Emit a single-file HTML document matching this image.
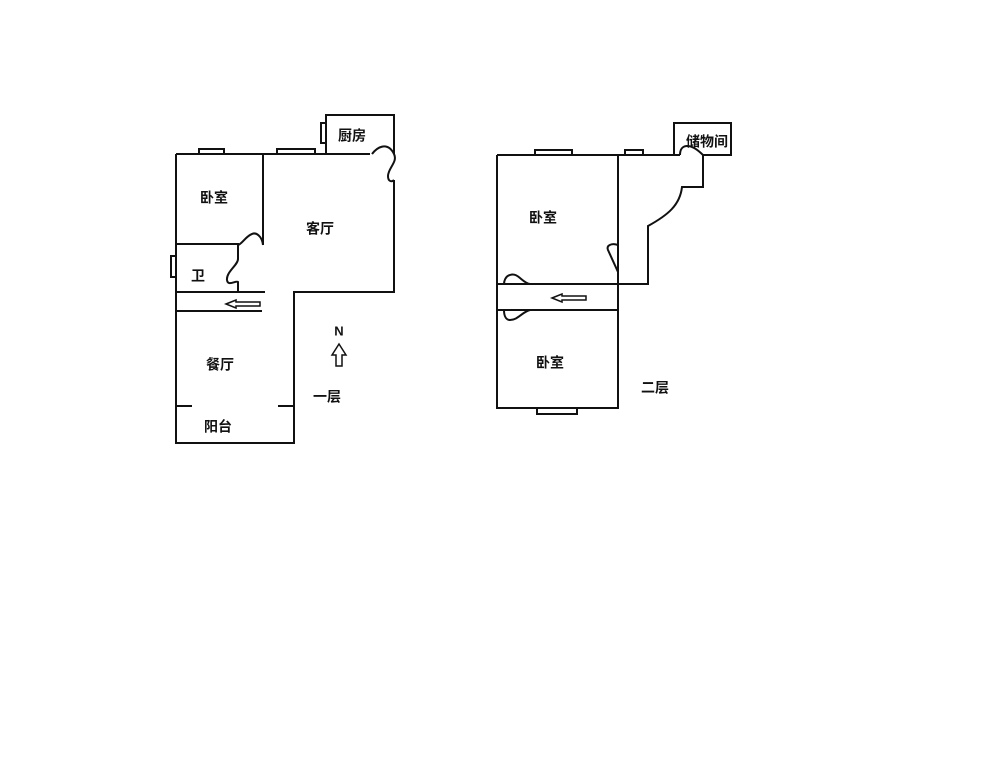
<!DOCTYPE html>
<html><head><meta charset="utf-8"><style>
html,body{margin:0;padding:0;background:#fff;}
svg{display:block}
text{font-family:"Liberation Sans","Noto Sans CJK SC",sans-serif;font-size:14px;font-weight:bold;fill:#111;text-anchor:middle;dominant-baseline:middle;}
</style></head><body>
<svg width="1000" height="776" viewBox="0 0 1000 776" xmlns="http://www.w3.org/2000/svg">
<g stroke="#111" stroke-width="2" fill="none">
<!-- Floor 1 -->
<path d="M176 154 V443 H294 V292 H394 V180"/>
<path d="M176 154 H370"/>
<path d="M326 154 V115 H394 V154"/>
<path d="M372 154 C378 146 388 142 394 154 C398 162 388 168 388 176 C388 182 392 182 394 180"/>
<rect x="199" y="149" width="25" height="5" fill="#fff"/>
<rect x="277" y="149" width="38" height="5" fill="#fff"/>
<rect x="321" y="123" width="5" height="20" fill="#fff"/>
<rect x="171" y="256" width="5" height="21" fill="#fff"/>
<path d="M263 154 V245"/>
<path d="M263 245 C262 236 256 232 252 234 C246 236 242 244 238 245"/>
<path d="M176 244 H238 V259 C238 265 226 272 227 280 C228 287 236 280 238 282 V292"/>
<path d="M176 292 H265"/>
<path d="M176 311 H262"/>
<path d="M176 406 H192 M278 406 H294"/>
<path d="M226 304 L236 300 V302 H260 V306 H236 V308 Z" stroke-width="1.5"/>
<path d="M336 366 V355 H332 L339 344 L346 355 H342 V366 Z" stroke-width="1.5"/>
<!-- Floor 2 -->
<path d="M497 155 V408 H618 V155"/>
<path d="M497 155 H680"/>
<path d="M674 155 V123 H731 V155 H703"/>
<path d="M680 155 C680 144 690 142 703 155"/>
<path d="M703 155 V187 H682 C680 205 668 215 648 226 V284 H618"/>
<path d="M618 284 V272 L608 250 C606 245 612 243 618 245"/>
<path d="M497 284 H530 C522 283 518 272 510 275 C505 276 504 282 504 284"/>
<path d="M497 284 H618"/>
<path d="M497 310 H618"/>
<path d="M530 310 C522 312 518 320 510 320 C505 320 504 314 504 310"/>
<rect x="535" y="150" width="37" height="5" fill="#fff"/>
<rect x="625" y="150" width="18" height="5" fill="#fff"/>
<rect x="537" y="408" width="40" height="6" fill="#fff"/>
<path d="M552 298 L562 294 V296 H586 V300 H562 V302 Z" stroke-width="1.5"/>
</g>
<text x="214" y="199">卧室</text>
<text x="320" y="230">客厅</text>
<text x="198" y="277">卫</text>
<text x="220" y="366">餐厅</text>
<text x="218" y="428">阳台</text>
<text x="352" y="137">厨房</text>
<text x="339" y="332" style="font-size:13px">N</text>
<text x="327" y="398">一层</text>
<text x="543" y="219">卧室</text>
<text x="550" y="364">卧室</text>
<text x="655" y="389">二层</text>
<text x="707" y="143">储物间</text>
</svg>
</body></html>
